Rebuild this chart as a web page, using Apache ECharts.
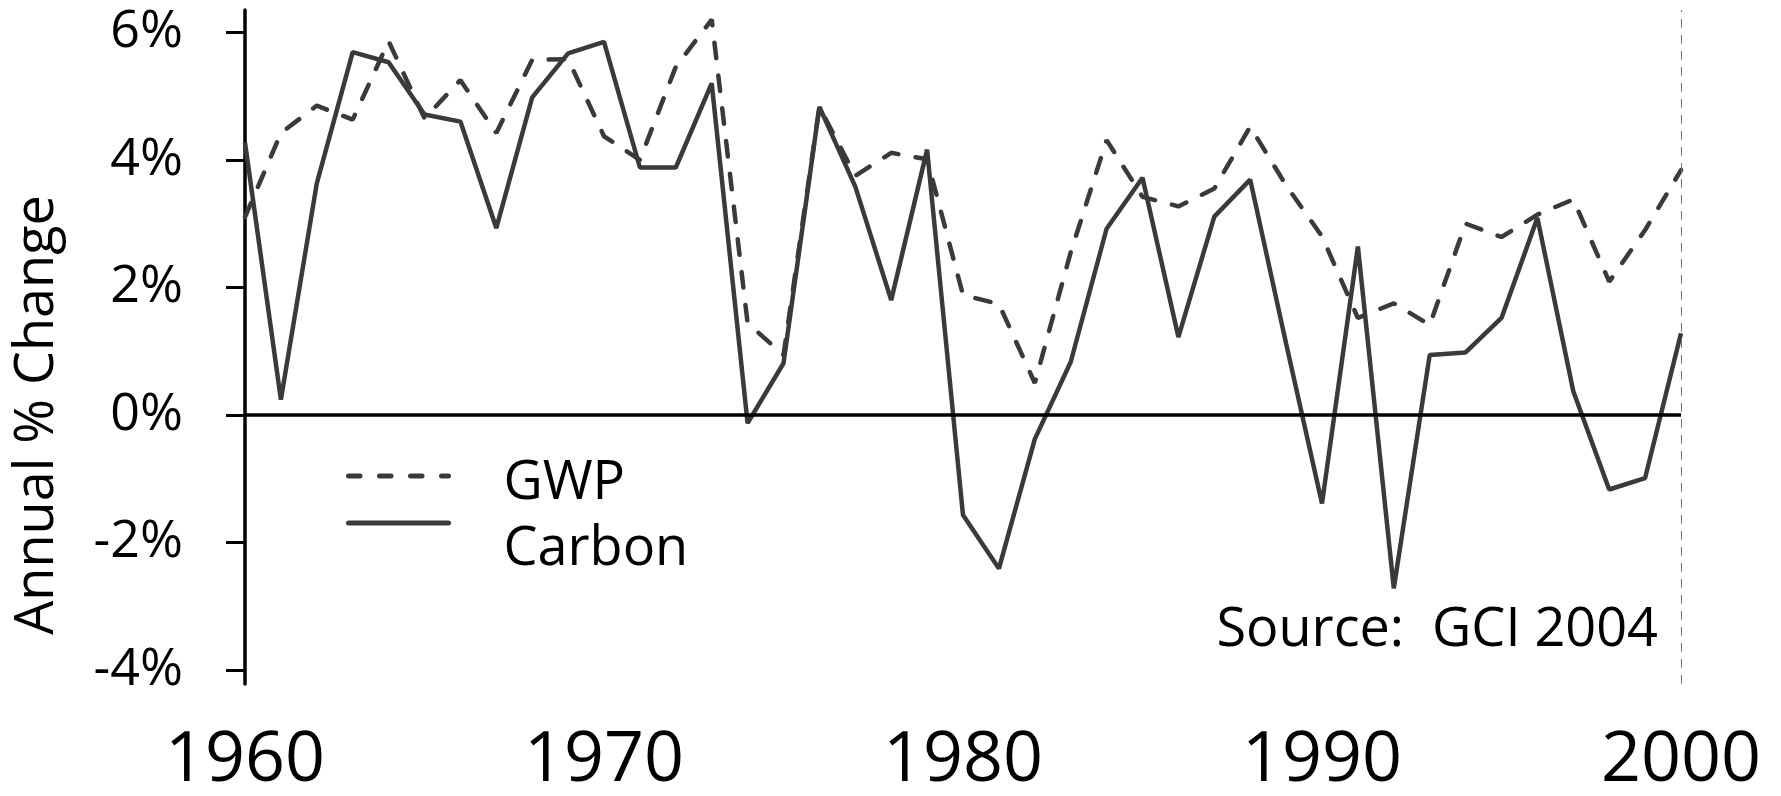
<!DOCTYPE html>
<html>
<head>
<meta charset="utf-8">
<script src="https://cdn.jsdelivr.net/npm/echarts@6/dist/echarts.min.js"></script>
<style>
  html, body { margin: 0; padding: 0; background: #fff; }
  #chart { width: 1781px; height: 796px; }
</style>
</head>
<body>
<div id="chart"></div>
<script>
// years 1960-2000
const years = []
for (let y = 1960; y <= 2000; y++) years.push(y)

// annual % change
const gwp = [3.1, 4.42, 4.85, 4.63, 5.86, 4.65, 5.25, 4.42, 5.57, 5.58,
  4.37, 4.0, 5.46, 6.2, 1.44, 0.94, 4.83, 3.75, 4.11, 4.01,
  1.88, 1.74, 0.5, 2.55, 4.31, 3.42, 3.27, 3.55, 4.52, 3.6,
  2.8, 1.52, 1.75, 1.41, 3.0, 2.79, 3.14, 3.38, 2.09, 2.9,
  3.84]
const carbon = [4.27, 0.24, 3.63, 5.69, 5.53, 4.71, 4.6, 2.93, 4.98, 5.67,
  5.85, 3.88, 3.88, 5.2, -0.13, 0.81, 4.83, 3.58, 1.8, 4.16,
  -1.57, -2.41, -0.38, 0.83, 2.92, 3.72, 1.22, 3.11, 3.69, 1.12,
  -1.39, 2.64, -2.72, 0.94, 0.98, 1.52, 3.09, 0.37, -1.17, -0.99,
  1.28]

const yTicks = [-4, -2, 0, 2, 4, 6]

const font = '"Open Sans", "Noto Sans", sans-serif'
const lineColor = '#3a3a3a'

const chart = echarts.init(document.getElementById('chart'))

// legend icon: line only, hide the default symbol dot
const noDot = { color: 'transparent', borderWidth: 0, opacity: 0 }

const option = {
  backgroundColor: '#fff',
  animation: false,
  grid: { left: 245, right: 100, top: 10, bottom: 112 },
  legend: [
    {
      data: ['GWP'],
      left: 346,
      top: 441,
      padding: 0,
      itemWidth: 100,
      itemHeight: 14,
      selectedMode: false,
      itemStyle: noDot,
      lineStyle: { type: [11.5, 19.5], width: 5, cap: 'round' },
      formatter: name => '\n' + name,
      textStyle: { fontSize: 54, lineHeight: 16, fontFamily: font, color: '#000', padding: [0, 0, 0, 50] }
    },
    {
      data: ['Carbon'],
      left: 346,
      top: 469,
      padding: 0,
      itemWidth: 100,
      itemHeight: 14,
      selectedMode: false,
      itemStyle: noDot,
      lineStyle: { width: 5, cap: 'round' },
      formatter: name => '\n' + name,
      textStyle: { fontSize: 54, lineHeight: 54, fontFamily: font, color: '#000', padding: [0, 0, 0, 50] }
    }
  ],
  xAxis: {
    type: 'value',
    min: 1960,
    max: 2000,
    interval: 10,
    axisLine: { show: false },
    axisTick: { show: false },
    splitLine: { show: false },
    axisLabel: {
      margin: 42,
      fontSize: 70,
      fontFamily: font,
      color: '#000',
      formatter: v => String(v)
    }
  },
  yAxis: {
    type: 'value',
    min: -4.22,
    max: 6.35,
    axisLine: { show: true, lineStyle: { color: '#000', width: 3.5 } },
    axisTick: { show: true, length: 19, customValues: yTicks, lineStyle: { color: '#000', width: 3 } },
    splitLine: { show: false },
    axisLabel: {
      customValues: yTicks,
      margin: 62,
      fontSize: 52,
      fontFamily: font,
      color: '#000',
      formatter: v => v + '%'
    }
  },
  graphic: [
    {
      type: 'text',
      x: 38,
      y: 415,
      rotation: Math.PI / 2,
      style: {
        text: 'Annual % Change',
        font: '54px ' + font,
        fill: '#000',
        textAlign: 'center',
        textVerticalAlign: 'middle'
      }
    },
    {
      type: 'text',
      x: 1658,
      y: 631,
      style: {
        text: 'Source:  GCI 2004',
        font: '54px ' + font,
        fill: '#000',
        textAlign: 'right',
        textVerticalAlign: 'middle'
      }
    }
  ],
  series: [
    {
      name: 'GWP',
      type: 'line',
      symbol: 'none',
      data: years.map((y, i) => [y, gwp[i]]),
      lineStyle: { color: lineColor, width: 4.5, type: [15.5, 17.5], cap: 'round' },
      itemStyle: { color: lineColor }
    },
    {
      name: 'Carbon',
      type: 'line',
      symbol: 'none',
      data: years.map((y, i) => [y, carbon[i]]),
      lineStyle: { color: lineColor, width: 4.5 },
      itemStyle: { color: lineColor },
      markLine: {
        silent: true,
        symbol: 'none',
        label: { show: false },
        data: [
          { yAxis: 0, lineStyle: { color: '#000', width: 3.5, type: 'solid' } },
          { xAxis: 2000, lineStyle: { color: '#777', width: 1, type: [9, 7] } }
        ]
      }
    }
  ]
}

chart.setOption(option)

window.addEventListener('resize', () => {
  chart.resize()
})
</script>
</body>
</html>
